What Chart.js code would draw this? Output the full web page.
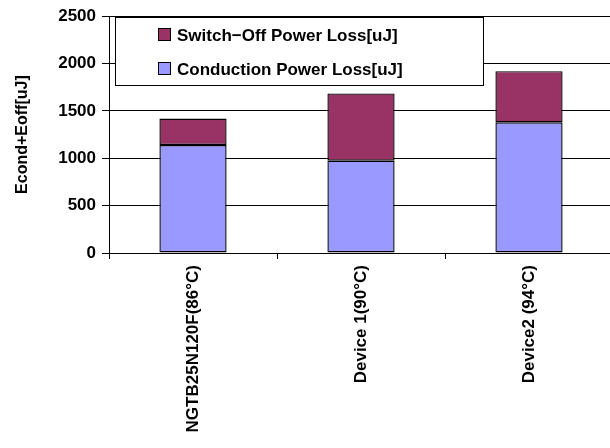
<!DOCTYPE html>
<html>
<head>
<meta charset="utf-8">
<script src="https://cdn.jsdelivr.net/npm/chart.js@4"></script>
<style>
  html, body { margin: 0; padding: 0; background: #fff; overflow: hidden; }
  #wrap { width: 620px; height: 448px; }
</style>
</head>
<body>
<div id="wrap"><canvas id="myChart" width="620" height="448"></canvas></div>
<script>
const devices = ["NGTB25N120F(86\u00B0C)", "Device 1(90\u00B0C)", "Device2 (94\u00B0C)"];
const conductionLoss = [1140, 975, 1380];
const switchOffLoss = [280, 710, 540];
const yTicks = [0, 500, 1000, 1500, 2000, 2500];

const FONT = "'Liberation Sans', Arial, sans-serif";

// legend drawn inside the plot area, like the original
const boxLegend = {
  id: "boxLegend",
  afterDraw(chart) {
    const ctx = chart.ctx;
    const x0 = 115.5, y0 = 17.5, w = 368, h = 68;
    ctx.save();
    ctx.fillStyle = "#fff";
    ctx.strokeStyle = "#000";
    ctx.lineWidth = 1;
    ctx.fillRect(x0, y0, w, h);
    ctx.strokeRect(x0, y0, w, h);
    ctx.font = "bold 17px " + FONT;
    ctx.textBaseline = "middle";
    const order = [1, 0];
    order.forEach((di, i) => {
      const ds = chart.data.datasets[di];
      const cy = 35 + i * 34;
      ctx.fillStyle = ds.backgroundColor;
      ctx.fillRect(158.5, cy - 6.5, 12, 12);
      ctx.strokeRect(158.5, cy - 6.5, 12, 12);
      ctx.fillStyle = "#000";
      ctx.fillText(ds.label, 177, cy + 1);
    });
    ctx.restore();
  }
};

new Chart(document.getElementById("myChart"), {
  type: "bar",
  data: {
    labels: devices,
    datasets: [
      {
        label: "Conduction Power Loss[uJ]",
        data: conductionLoss,
        backgroundColor: "#9999FF",
        borderColor: "#000",
        borderWidth: 1.4,
        borderSkipped: false
      },
      {
        label: "Switch\u2212Off Power Loss[uJ]",
        data: switchOffLoss,
        backgroundColor: "#993366",
        borderColor: "#000",
        borderWidth: 1.4,
        borderSkipped: false
      }
    ]
  },
  options: {
    responsive: false,
    animation: false,
    layout: { padding: { top: 12, right: 7, left: 0, bottom: 0 } },
    datasets: { bar: { barPercentage: 0.4, categoryPercentage: 1 } },
    plugins: { legend: { display: false }, tooltip: { enabled: false } },
    scales: {
      x: {
        stacked: true,
        offset: true,
        grid: { offset: true, drawOnChartArea: false, color: "#000", tickLength: 6 },
        border: { color: "#000", width: 1 },
        ticks: {
          color: "#000",
          font: { family: FONT, size: 17, weight: "bold" },
          minRotation: 90, maxRotation: 90, padding: 6
        },
        afterFit(scale) { scale.height = 195; }
      },
      y: {
        stacked: true,
        min: 0, max: 2500,
        afterBuildTicks(scale) { scale.ticks = yTicks.map(v => ({ value: v })); },
        grid: { color: "#000", tickLength: 7 },
        border: { color: "#000", width: 1 },
        ticks: {
          color: "#000",
          font: { family: FONT, size: 17, weight: "bold" },
          padding: 6,
          callback: v => String(v)
        },
        title: {
          display: true,
          text: "Econd+Eoff[uJ]",
          color: "#000",
          font: { family: FONT, size: 16, weight: "bold" },
          padding: { top: 13, bottom: 0 }
        },
        afterFit(scale) { scale.width = 109; }
      }
    }
  },
  plugins: [boxLegend]
});
</script>
</body>
</html>
